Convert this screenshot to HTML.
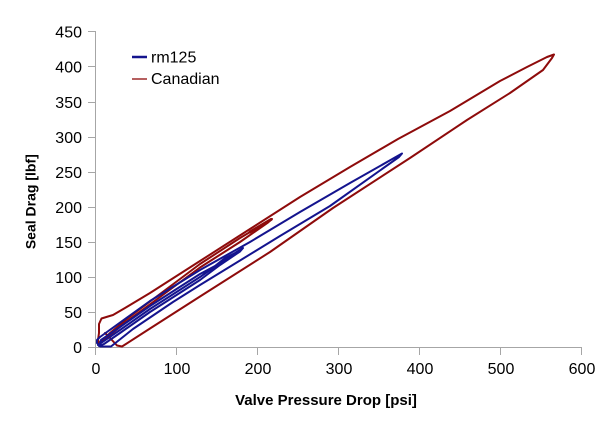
<!DOCTYPE html>
<html>
<head>
<meta charset="utf-8">
<style>
  html,body{margin:0;padding:0;background:#fff;}
  svg{display:block;}
  text{font-family:"Liberation Sans",Arial,sans-serif;fill:#000;}
</style>
</head>
<body>
<svg width="602" height="421" viewBox="0 0 602 421" xmlns="http://www.w3.org/2000/svg">
  <rect x="0" y="0" width="602" height="421" fill="#fff"/>

  <!-- axes -->
  <g stroke="#a6a6a6" stroke-width="1" fill="none">
    <line x1="95.5" y1="31.5" x2="95.5" y2="347.5"/>
    <line x1="95.5" y1="347.5" x2="582" y2="347.5"/>
    <!-- y ticks -->
    <line x1="88" y1="347.5" x2="96" y2="347.5"/>
    <line x1="88" y1="312.5" x2="96" y2="312.5"/>
    <line x1="88" y1="277.5" x2="96" y2="277.5"/>
    <line x1="88" y1="242.5" x2="96" y2="242.5"/>
    <line x1="88" y1="207.5" x2="96" y2="207.5"/>
    <line x1="88" y1="172.5" x2="96" y2="172.5"/>
    <line x1="88" y1="137.5" x2="96" y2="137.5"/>
    <line x1="88" y1="102.5" x2="96" y2="102.5"/>
    <line x1="88" y1="66.5" x2="96" y2="66.5"/>
    <line x1="88" y1="31.5" x2="96" y2="31.5"/>
    <!-- x ticks -->
    <line x1="95.5" y1="347" x2="95.5" y2="355"/>
    <line x1="176.5" y1="347" x2="176.5" y2="355"/>
    <line x1="257.5" y1="347" x2="257.5" y2="355"/>
    <line x1="338.5" y1="347" x2="338.5" y2="355"/>
    <line x1="419.5" y1="347" x2="419.5" y2="355"/>
    <line x1="500.5" y1="347" x2="500.5" y2="355"/>
    <line x1="581.5" y1="347" x2="581.5" y2="355"/>
  </g>

  <!-- y tick labels -->
  <g font-size="16" text-anchor="end">
    <text x="82" y="353">0</text>
    <text x="82" y="318">50</text>
    <text x="82" y="283">100</text>
    <text x="82" y="248">150</text>
    <text x="82" y="213">200</text>
    <text x="82" y="178">250</text>
    <text x="82" y="143">300</text>
    <text x="82" y="108">350</text>
    <text x="82" y="72.5">400</text>
    <text x="82" y="37.5">450</text>
  </g>

  <!-- x tick labels -->
  <g font-size="16" text-anchor="middle">
    <text x="96" y="374">0</text>
    <text x="177" y="374">100</text>
    <text x="258" y="374">200</text>
    <text x="339" y="374">300</text>
    <text x="420" y="374">400</text>
    <text x="501" y="374">500</text>
    <text x="582" y="374">600</text>
  </g>

  <!-- axis titles -->
  <text x="326" y="405" font-size="15" font-weight="bold" text-anchor="middle">Valve Pressure Drop [psi]</text>
  <text transform="translate(35.5,201.7) rotate(-90)" font-size="14" font-weight="bold" text-anchor="middle">Seal Drag [lbf]</text>

  <!-- Canadian series -->
  <g fill="none" stroke="#8e0b0b" stroke-width="2" stroke-linejoin="round" stroke-linecap="round">
    <path d="M105,333 L110,338 L117,345.5 L122,346.5 L150,328.5 L200,296.5 L270,252 L333,208 L410,158 L467,120 L510,93 L543,70 L552,58 L554,54.5 L547,57 L527,67 L500,81 L450,111 L398,139 L350,167 L300,197 L250,229 L200,261 L150,293 L125,308 L113,315 L108,316.5 L101.5,318.5 L99,324 L99,333 L98,340 L99,344"/>
    <path d="M99,344 L110,333 L128,318 L160,294 L200,264 L240,238 L272,219 L268,222.5 L240,242 L200,267.5 L160,297 L130,319 L110,335 L100,342"/>
    <path d="M250,232 L271,219.5" stroke-width="3"/>
  </g>

  <!-- rm125 series -->
  <g fill="none" stroke="#14148e" stroke-width="2" stroke-linejoin="round" stroke-linecap="round">
    <path d="M97,343 L97,340 L100,337 L150,301 L200,270 L250,242 L300,212 L350,183 L402,153.5 L399,157 L330,206 L280,236 L200,285 L173,302 L133,329 L111,346.5 L100,346.5 L97,343"/>
    <path d="M98,345 L120,330 L150,309 L175,293 L200,277 L220,263 L243,248 L240,251.5 L220,265 L200,280 L175,296 L150,312 L120,333 L104,344 L99,346 L101,340 L120,327 L150,306 L175,290 L200,274 L215,266 L225,258 L235,253 L243,248"/>
  </g>

  <!-- legend -->
  <line x1="132" y1="57" x2="147" y2="57" stroke="#14148e" stroke-width="2.5"/>
  <text x="151" y="62.5" font-size="16">rm125</text>
  <line x1="132" y1="79" x2="147" y2="79" stroke="#8e0b0b" stroke-width="1.3"/>
  <text x="151" y="84" font-size="16">Canadian</text>
</svg>
</body>
</html>
